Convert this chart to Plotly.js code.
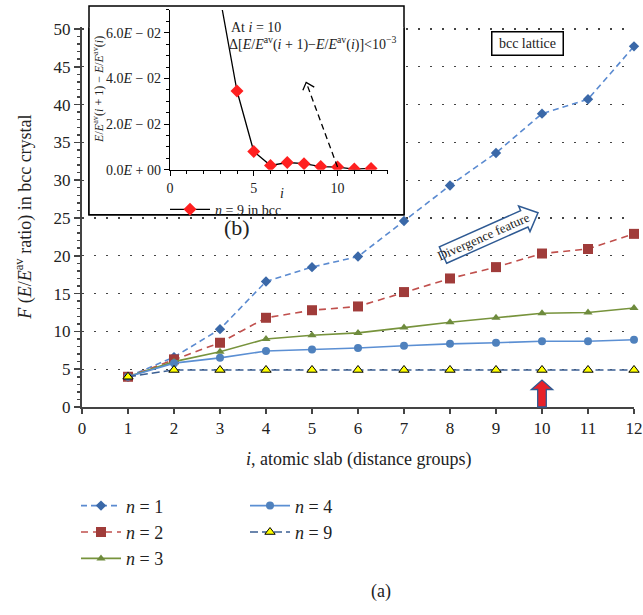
<!DOCTYPE html>
<html><head><meta charset="utf-8">
<script src="https://cdn.plot.ly/plotly-3.0.1.min.js"></script>
<style>html,body{margin:0;padding:0;background:#fff;}#chart{width:643px;height:615px;}</style>
</head><body><div id="chart"></div>
<script>
// ---- data ----
const slabs = [1,2,3,4,5,6,7,8,9,10,11,12];
const n1 = [4.0,6.6,10.3,16.6,18.5,19.9,24.6,29.3,33.6,38.8,40.7,47.7];
const n2 = [4.0,6.3,8.5,11.8,12.8,13.3,15.2,17.0,18.5,20.3,20.9,22.9];
const n3 = [4.0,6.0,7.3,9.0,9.5,9.8,10.5,11.2,11.8,12.4,12.5,13.1];
const n4 = [4.0,5.8,6.5,7.4,7.6,7.8,8.1,8.35,8.5,8.7,8.7,8.9];
const n9 = [4.0,4.9,4.9,4.9,4.9,4.9,4.9,4.9,4.9,4.9,4.9,4.9];
const insetI = [3,4,5,6,7,8,9,10,11,12];
const insetD = [0.075,0.0345,0.0080,0.0019,0.0032,0.0027,0.0014,0.0012,0.0003,0.0006];
const insetTickVals = [0,0.02,0.04,0.06];
const insetTickText = ["0.0<i>E</i> + 00","2.0<i>E</i> − 02","4.0<i>E</i> − 02","6.0<i>E</i> − 02"];

// ---- layout geometry helpers (pixel -> paper) ----
const L=82, R=9, T=5, B=207.5, W=643, H=615;
const pw = W-L-R, ph = H-T-B;
const X = px => (px-L)/pw;
const Y = py => (H-B-py)/ph;
const yMax = 50.2;
const pxPerUnit = 7.57;
const yTopPx = (H-B) - yMax*pxPerUnit;
const mainTop = Y(yTopPx);
// pixel -> main data coords
const DX = px => (px-L)/46;
const DY = py => (H-B-py)/pxPerUnit;

const serif = '"Liberation Serif", "Times New Roman", Times, serif';

function tr(name, y, color, lineColor, sym, size, dash, extra){
  return Object.assign({
    x: slabs, y: y, type:'scatter', mode:'lines+markers', name: name,
    line:{color: lineColor, width:1.6, dash: dash},
    marker:{symbol: sym, size: size, color: color},
    cliponaxis:false, xaxis:'x', yaxis:'y'
  }, extra||{});
}
const traces = [
  tr('<i>n</i> = 1', n1, '#3A68A8', '#5A8AD0', 'diamond', 8, '6px,4px', {legend:'legend'}),
  tr('<i>n</i> = 2', n2, '#A03C3A', '#C0504D', 'square', 10, '7px,5px', {legend:'legend'}),
  tr('<i>n</i> = 3', n3, '#6E8B3D', '#77933C', 'triangle-up', 8, 'solid', {legend:'legend'}),
  tr('<i>n</i> = 4', n4, '#4F81BD', '#5B8FD3', 'circle', 8, 'solid', {legend:'legend3'}),
  tr('<i>n</i> = 9', n9, '#FFFF00', '#3B5F93', 'triangle-up', 9, '8px,4px', {legend:'legend3'}),
  {x: insetI, y: insetD, type:'scatter', mode:'lines+markers', name:'<i>n</i> = 9 in bcc',
   line:{color:'#000', width:1.3}, marker:{symbol:'diamond', size:10, color:'#FF2020'},
   xaxis:'x2', yaxis:'y2', legend:'legend2'}
];
traces[4].marker.line = {color:'#000', width:1};

// block arrow "Divergence feature"
const th = 24*Math.PI/180;
const u = [Math.cos(th), -Math.sin(th)], nn = [Math.sin(th), Math.cos(th)];
const tip = [538,213], headLen = 15, bodyLen = 104, bw = 9, hw = 14;
const hb = [tip[0]-headLen*u[0], tip[1]-headLen*u[1]];
const tl = [tip[0]-bodyLen*u[0], tip[1]-bodyLen*u[1]];
const pt = (c, k) => [c[0]+k*nn[0], c[1]+k*nn[1]];
const arrPts = [pt(tl,bw), pt(hb,bw), pt(hb,hw), tip, pt(hb,-hw), pt(hb,-bw), pt(tl,-bw)];
const pathOf = pts => 'M' + pts.map(p => X(p[0]).toFixed(5)+','+Y(p[1]).toFixed(5)).join(' L') + ' Z';
const midBody = [(tl[0]+hb[0])/2, (tl[1]+hb[1])/2];

// red up arrow at i = 10
const ax = 82 + 10*46;
const redPts = [[ax-4.3,407.5],[ax-4.3,390],[ax-10.7,390],[ax,380.5],[ax+10.7,390],[ax+4.3,390],[ax+4.3,407.5]];

// inset frame (pixels)
const box = {l:89, r:404, t:6, b:215};

function ann(px, py, text, size, extra){
  return Object.assign({xref:'paper', yref:'paper', x:X(px), y:Y(py), xanchor:'center', yanchor:'middle',
    showarrow:false, text:text, font:{family:serif, size:size, color:'#222'}}, extra||{});
}

const tickFont = {family: serif, size: 17, color:'#222'};
const layout = {
  width: W, height: H,
  margin:{l:L, r:R, t:T, b:B},
  paper_bgcolor:'#fff', plot_bgcolor:'#fff',
  showlegend:true,
  font:{family: serif},
  xaxis:{domain:[0,1], range:[0,12], dtick:1, tick0:0, showgrid:false, zeroline:false,
    showline:true, linecolor:'#444', linewidth:2, ticks:'outside', ticklen:5, tickwidth:1.5, tickcolor:'#444',
    tickfont: tickFont, anchor:'y'},
  yaxis:{domain:[0,mainTop], range:[0,yMax], dtick:5, tick0:0, zeroline:false,
    showgrid:true, gridcolor:'#444', gridwidth:1.2, griddash:'2px,10px',
    showline:true, linecolor:'#444', linewidth:2, ticks:'outside', ticklen:6, tickwidth:1.5, tickcolor:'#444',
    minor:{dtick:1, ticks:'outside', ticklen:3, tickcolor:'#444', showgrid:false},
    tickfont: tickFont, anchor:'x'},
  xaxis2:{domain:[X(170), X(387.8)], range:[0,13], tickvals:[0,5,10], anchor:'y2',
    showgrid:false, zeroline:false, showline:true, linecolor:'#000', linewidth:1.3,
    ticks:'outside', ticklen:5, tickcolor:'#000', minor:{dtick:1, ticks:'outside', ticklen:3, tickcolor:'#000'},
    tickfont:{family:serif, size:14, color:'#222'}},
  yaxis2:{domain:[Y(170), Y(10)], range:[0,0.07], tickvals:insetTickVals, ticktext:insetTickText, anchor:'x2',
    showgrid:false, zeroline:false, showline:true, linecolor:'#000', linewidth:1.3,
    ticks:'outside', ticklen:5, tickcolor:'#000', minor:{dtick:0.005, ticks:'outside', ticklen:3, tickcolor:'#000'},
    tickfont:{family:serif, size:14, color:'#222'}},
  legend:{x:X(76), y:Y(488), xanchor:'left', yanchor:'top', bgcolor:'rgba(0,0,0,0)',
    font:{family:serif, size:18, color:'#222'}, tracegroupgap:0, itemwidth:40},
  legend3:{x:X(245), y:Y(488), xanchor:'left', yanchor:'top', bgcolor:'rgba(0,0,0,0)',
    font:{family:serif, size:18, color:'#222'}, tracegroupgap:0, itemwidth:40},
  legend2:{x:X(165), y:Y(194), xanchor:'left', yanchor:'top', bgcolor:'rgba(0,0,0,0)',
    font:{family:serif, size:14, color:'#222'}, itemwidth:40},
  shapes:[
    // inset frame: paper part (below subplots) + data part (between grid and traces) hiding grid dots
    {type:'rect', xref:'paper', yref:'paper', layer:'below',
     x0:X(box.l), x1:X(box.r), y0:Y(box.b), y1:Y(box.t),
     fillcolor:'#fff', line:{color:'#000', width:1.5}},
    {type:'rect', xref:'x', yref:'y', layer:'between',
     x0:DX(box.l), x1:DX(box.r), y0:DY(box.b), y1:DY(box.t),
     fillcolor:'#fff', line:{color:'#000', width:1.5}},
    {type:'line', xref:'x2', yref:'y2', x0:10, y0:0.0012, x1:8.13, y1:0.0383, line:{color:'#000', width:1.3, dash:'6px,4px'}},
    {type:'path', xref:'x2', yref:'y2', path:'M7.93,0.0348 L8.13,0.0383 L8.61,0.0362', line:{color:'#000', width:1.3}},
    {type:'path', xref:'paper', yref:'paper', path: pathOf(arrPts), fillcolor:'#fff', line:{color:'#2F5A93', width:1.5}, layer:'above'},
    {type:'path', xref:'paper', yref:'paper', path: pathOf(redPts), fillcolor:'#E8222A', line:{color:'#2F5A93', width:1.3}, layer:'above'}
  ],
  annotations:[
    ann(24, 218, '<i>F</i> (<i>E</i>/<i>E</i><sup>av</sup> ratio) in bcc crystal', 18, {textangle:-90}),
    ann(358, 460, '<i>i</i>, atomic slab (distance groups)', 18),
    ann(99, 90, '<i>E</i>/<i>E</i><sup>av</sup>(<i>i</i> + 1) − <i>E</i>/<i>E</i><sup>av</sup>(<i>i</i>)', 12, {textangle:-90}),
    ann(282, 194, '<i>i</i>', 14),
    ann(229, 28, 'At <i>i</i> = 10', 14, {xanchor:'left'}),
    ann(227, 44, 'Δ[<i>E</i>/<i>E</i><sup>av</sup>(<i>i</i> + 1)−<i>E</i>/<i>E</i><sup>av</sup>(<i>i</i>)]&lt;10<sup>−3</sup>', 14, {xanchor:'left'}),
    ann(527, 44, 'bcc lattice', 14, {bordercolor:'#000', borderwidth:1.5, bgcolor:'#fff', width:68, height:20, borderpad:1}),
    ann(midBody[0], midBody[1], 'Divergence feature', 13, {textangle:-24}),
    ann(237, 228, '(b)', 22),
    ann(381, 592, '(a)', 18)
  ]
};
Plotly.newPlot('chart', traces, layout, {displayModeBar:false, staticPlot:true});
</script></body></html>
